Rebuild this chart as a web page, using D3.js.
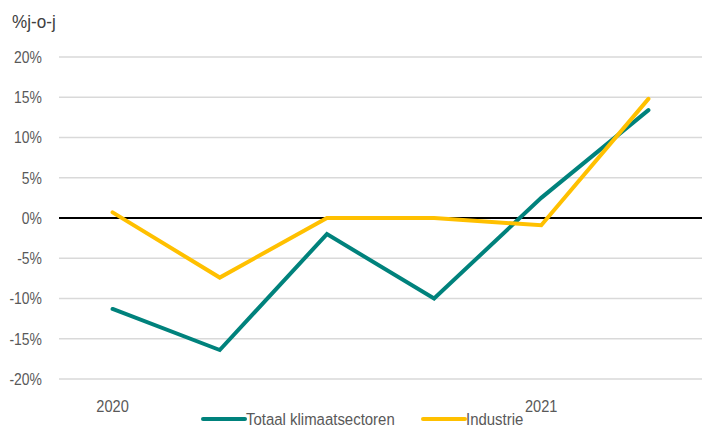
<!DOCTYPE html>
<html lang="nl">
<head>
  <meta charset="UTF-8">
  <title>Klimaatsectoren j-o-j</title>
  <script src="https://d3js.org/d3.v7.min.js"></script>
  <style>
    body { margin: 0; background: #fff; }
    svg text { font-family: "Liberation Sans", Arial, sans-serif; }
  </style>
</head>
<body>
  <script>
    // Data (kwartalen, % jaar-op-jaar)
    const quarters = ['2020K1', '2020K2', '2020K3', '2020K4', '2021K1', '2021K2'];
    const totaal = [-11.3, -16.4, -2.0, -10.0, 2.5, 13.4];
    const industrie = [0.7, -7.4, 0.0, 0.0, -0.9, 14.8];
    const yTicks = [-20, -15, -10, -5, 0, 5, 10, 15, 20];
    const xLabels = { '2020K1': '2020', '2021K1': '2021' };
    const seriesNames = ['Totaal klimaatsectoren', 'Industrie'];
    const colors = ['#00827c', '#ffc000'];

    const width = 702, height = 427;
    const margin = { top: 57, right: 0, bottom: 48, left: 59 };

    const svg = d3.select('body').append('svg')
      .attr('width', width)
      .attr('height', height);

    const x = d3.scalePoint()
      .domain(quarters)
      .range([margin.left, width - margin.right])
      .padding(0.5);

    const y = d3.scaleLinear()
      .domain([-20, 20])
      .range([height - margin.bottom, margin.top]);

    // geen smalle letter beschikbaar, dus horizontaal schalen
    const place = (px, py, s) => `translate(${px},${py}) scale(${s},1)`;

    // Gridlines
    svg.append('g')
      .selectAll('line')
      .data(yTicks.filter(d => d !== 0))
      .join('line')
      .attr('x1', margin.left)
      .attr('x2', width - margin.right)
      .attr('y1', d => y(d))
      .attr('y2', d => y(d))
      .style('stroke', '#d9d9d9')
      .style('stroke-width', 1.5);

    // Y labels
    svg.append('g')
      .selectAll('text')
      .data(yTicks)
      .join('text')
      .attr('transform', d => place(42, y(d), 0.82))
      .attr('dy', '0.35em')
      .attr('text-anchor', 'end')
      .style('font-size', '17px')
      .style('fill', '#595959')
      .text(d => d + '%');

    // Title
    svg.append('text')
      .attr('transform', place(12, 28, 0.95))
      .style('font-size', '18px')
      .style('fill', '#404040')
      .text('%j-o-j');

    // Zero line
    svg.append('line')
      .attr('x1', margin.left)
      .attr('x2', width - margin.right)
      .attr('y1', y(0))
      .attr('y2', y(0))
      .style('stroke', '#000')
      .style('stroke-width', 2.2);

    // X labels
    svg.append('g')
      .selectAll('text')
      .data(quarters.filter(q => xLabels[q]))
      .join('text')
      .attr('transform', d => place(x(d), 412, 0.86))
      .attr('text-anchor', 'middle')
      .style('font-size', '17px')
      .style('fill', '#595959')
      .text(d => xLabels[d]);

    // Lines
    const line = d3.line()
      .x((d, i) => x(quarters[i]))
      .y(d => y(d));

    [totaal, industrie].forEach((values, i) => {
      svg.append('path')
        .datum(values)
        .attr('d', line)
        .style('fill', 'none')
        .style('stroke', colors[i])
        .style('stroke-width', 4)
        .style('stroke-linejoin', 'miter')
        .style('stroke-linecap', 'round');
    });

    // Legend
    const legendX = [203, 423];
    const legend = svg.append('g')
      .selectAll('g')
      .data(seriesNames)
      .join('g')
      .attr('transform', (d, i) => `translate(${legendX[i]}, 419)`);

    legend.append('line')
      .attr('x1', 0)
      .attr('x2', 42)
      .style('stroke', (d, i) => colors[i])
      .style('stroke-width', 4)
      .style('stroke-linecap', 'round');

    legend.append('text')
      .attr('transform', place(43, 0, 0.88))
      .attr('dy', '0.35em')
      .style('font-size', '17px')
      .style('fill', '#595959')
      .text(d => d);
  </script>
</body>
</html>
